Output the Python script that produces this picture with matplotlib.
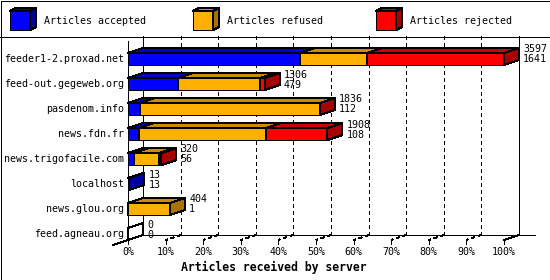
import numpy as np
import matplotlib
matplotlib.use('Agg')
from matplotlib import pyplot as plt
from matplotlib.patches import Polygon, Rectangle
from matplotlib.lines import Line2D

# data
servers = ['feeder1-2.proxad.net', 'feed-out.gegeweb.org', 'pasdenom.info',
           'news.fdn.fr', 'news.trigofacile.com', 'localhost',
           'news.glou.org', 'feed.agneau.org']
received = [3597, 1306, 1836, 1908, 320, 13, 404, 0]
accepted = [1641, 479, 112, 108, 56, 13, 1, 0]
refused = [642, 784, 1721, 1209, 244, 0, 403, 0]
rejected = [1314, 43, 3, 591, 20, 0, 0, 0]
series_names = ['Articles accepted', 'Articles refused', 'Articles rejected']
tick_values = list(range(0, 101, 10))
tick_labels = ['%d%%' % t for t in tick_values]
x_title = 'Articles received by server'

front_colors = ['#0000ff', '#ffb000', '#ff0000']
top_colors = ['#0000cc', '#cc8c00', '#cc0000']
side_colors = ['#0000a0', '#a87400', '#a80000']

W, H, DPI = 550, 280, 100
plt.rcParams['font.family'] = ['DejaVu Sans Mono']
FS = 7.2
LW = 0.72

fig = plt.figure(figsize=(W / DPI, H / DPI), dpi=DPI)
fig.patch.set_facecolor('white')

# overlay in pixel units for legend + frame
lax = fig.add_axes([0, 0, 1, 1])
lax.set_xlim(0, W)
lax.set_ylim(H, 0)
lax.axis('off')

# plot area: x = percent, y = row index
PX_L, PX_R, PX_T, PX_B = 128, 504, 35, 245
ROW0, ROWH = 59, 25
ax = fig.add_axes([PX_L / W, 1 - PX_B / H, (PX_R - PX_L) / W, (PX_B - PX_T) / H])
ax.set_xlim(0, 100)
ax.set_ylim((PX_B - ROW0) / ROWH, (PX_T - ROW0) / ROWH)
ax.axis('off')

xpx = 100.0 / (PX_R - PX_L)        # data units per pixel (x)
ypx = 1.0 / ROWH                   # data units per pixel (y)
DX = 15 * xpx
DY = -5 * ypx
HALF = 6 * ypx
y_top = (36 - ROW0) / ROWH
y_front_floor = (240 - ROW0) / ROWH
y_back_floor = y_front_floor + DY

def line(a, xs, ys, **kw):
    kw.setdefault('color', 'black')
    kw.setdefault('lw', LW)
    a.add_line(Line2D(xs, ys, clip_on=False, antialiased=False, **kw))

# back wall / floor
line(ax, [DX, DX], [y_top, y_back_floor])
line(ax, [100 + DX, 100 + DX], [y_top, y_back_floor])
line(ax, [0, 0], [y_top - DY, y_front_floor])
line(ax, [DX, (535 - PX_L) * xpx], [y_back_floor, y_back_floor])
line(ax, [-DX, DX], [y_front_floor - DY, y_back_floor])
line(ax, [100, 100 + DX], [y_front_floor, y_back_floor])
for t in tick_values[1:-1]:
    line(ax, [t + DX, t + DX], [y_top, y_back_floor], ls=(0, (4, 3)), zorder=1)
    line(ax, [t + DX, t], [y_back_floor, y_front_floor], ls=(0, (4, 3)), zorder=1)
for t, lab in zip(tick_values, tick_labels):
    line(ax, [t, t], [y_front_floor, y_front_floor + 4 * ypx])
    ax.text(t, (252 - ROW0) / ROWH, lab, ha='center', va='center', fontsize=FS)

fig.text(274 / W, 1 - 267 / H, x_title, ha='center', va='center',
         fontsize=8.3, fontweight='bold')

# bars
scale = 100.0 / max(received)
def box(x0, x1, y0, y1, fc, tc, sc, z):
    y0b, y1b = y0 + DY, y1 + DY
    for pts, c in (([(x0, y0), (x1, y0), (x1, y1), (x0, y1)], fc),
                   ([(x0, y0), (x0 + DX, y0b), (x1 + DX, y0b), (x1, y0)], tc),
                   ([(x1, y0), (x1 + DX, y0b), (x1 + DX, y1b), (x1, y1)], sc)):
        ax.add_patch(Polygon(pts, closed=True, facecolor=c, edgecolor='black',
                             lw=LW, clip_on=False, antialiased=False, zorder=z))

for i, name in enumerate(servers):
    y0, y1 = i - HALF, i + HALF
    start = 0
    z = 3
    for k, vals in enumerate([accepted, refused, rejected]):
        v = vals[i]
        if v == 0:
            continue
        box(start * scale, (start + v) * scale, y0, y1,
            front_colors[k], top_colors[k], side_colors[k], z)
        start += v
        z += 0.1
    if received[i] == 0:
        box(0, 0, y0, y1, 'white', 'white', 'white', 3)
    xe = received[i] * scale + DX + 4 * xpx
    ax.text(xe, i - 9.5 * ypx, str(received[i]), ha='left', va='center', fontsize=FS, zorder=6)
    ax.text(xe, i + 0.5 * ypx, str(accepted[i]), ha='left', va='center', fontsize=FS, zorder=6)
    ax.text(-4 * xpx, i, name, ha='right', va='center', fontsize=FS, zorder=6)

# legend
lx = [10, 193, 376]
for k, name in enumerate(series_names):
    x0, y0, s, d = lx[k], 11, 20, (6, 3)
    pts_f = [(x0, y0), (x0 + s, y0), (x0 + s, y0 + s - 1), (x0, y0 + s - 1)]
    pts_t = [(x0, y0), (x0 + d[0], y0 - d[1]), (x0 + s + d[0], y0 - d[1]), (x0 + s, y0)]
    pts_s = [(x0 + s, y0), (x0 + s + d[0], y0 - d[1]), (x0 + s + d[0], y0 + s - 1 - d[1]),
             (x0 + s, y0 + s - 1)]
    for pts, c in ((pts_f, front_colors[k]), (pts_t, top_colors[k]), (pts_s, side_colors[k])):
        lax.add_patch(Polygon(pts, closed=True, facecolor=c, edgecolor='black',
                              lw=LW, antialiased=False))
    lax.text(x0 + 34, 21, name, ha='left', va='center', fontsize=FS)

line(lax, [0, W], [36.5, 36.5])
lax.add_patch(Rectangle((0.5, 0.5), W - 1, H - 1, fill=False, edgecolor='black',
                        lw=LW, antialiased=False))

fig.savefig('out.png', dpi=DPI, facecolor='white')
